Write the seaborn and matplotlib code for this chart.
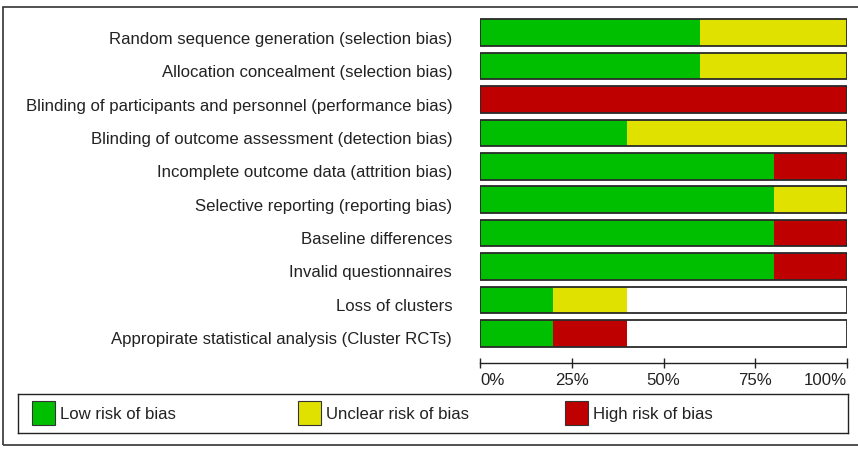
import numpy as np
import pandas as pd
import seaborn as sns
import matplotlib.pyplot as plt
import matplotlib.transforms as mtransforms
from matplotlib.patches import Rectangle

# -- risk of bias summary (percent of studies) -- #
domains = ['Random sequence generation (selection bias)',
           'Allocation concealment (selection bias)',
           'Blinding of participants and personnel (performance bias)',
           'Blinding of outcome assessment (detection bias)',
           'Incomplete outcome data (attrition bias)',
           'Selective reporting (reporting bias)',
           'Baseline differences',
           'Invalid questionnaires',
           'Loss of clusters',
           'Appropirate statistical analysis (Cluster RCTs)']
low = [60, 60, 0, 40, 80, 80, 80, 80, 20, 20]
unclear = [40, 40, 0, 60, 0, 20, 0, 0, 20, 0]
high = [0, 0, 100, 0, 20, 0, 20, 20, 0, 20]
totals = [100] * 10

xticks = [0, 25, 50, 75, 100]
legend_labels = ['Low risk of bias', 'Unclear risk of bias', 'High risk of bias']

GREEN, YELLOW, RED = '#00bf00', '#e1e100', '#bf0000'
legend_colors = [GREEN, YELLOW, RED]

sns.set_style('white')
plt.rcParams['font.family'] = ['Liberation Sans', 'DejaVu Sans']
FS = 12.1
TXT = '#222222'

df = pd.DataFrame({'domain': domains, 'low': low, 'unclear': unclear,
                   'high': high, 'total': totals})
df['low_unclear'] = df['low'] + df['unclear']
df['all'] = df['low_unclear'] + df['high']

W, H = 858, 452
fig = plt.figure(figsize=(W / 100, H / 100), dpi=100)
ax = fig.add_axes([480 / W, 1 - 351 / H, 367 / W, (351 - 17) / H])

# stacked bars: draw cumulative totals back to front
for col, c in [('all', RED), ('low_unclear', YELLOW), ('low', GREEN)]:
    sns.barplot(data=df, x=col, y='domain', color=c, saturation=1, width=0.8,
                linewidth=0, errorbar=None, ax=ax)
# outline of each bar
sns.barplot(data=df, x='total', y='domain', color='#2a2a2a', fill=False,
            width=0.8, linewidth=1.3, errorbar=None, ax=ax)

ax.set_xlim(0, 100)
ax.set_xlabel('')
ax.set_ylabel('')
for s in ['left', 'top', 'right']:
    ax.spines[s].set_visible(False)
ax.spines['bottom'].set_position(('outward', 9))
ax.spines['bottom'].set_color('#222222')
ax.spines['bottom'].set_linewidth(1)

ax.set_xticks(xticks)
ax.set_xticklabels([f'{v}%' for v in xticks])
ax.tick_params(axis='x', direction='inout', length=7, width=1, color='#222222',
               labelsize=FS, labelcolor=TXT, pad=3.5, bottom=True)
ax.tick_params(axis='y', length=0, pad=20, labelsize=FS, labelcolor=TXT)

xl = ax.get_xticklabels()
xl[0].set_ha('left')
xl[-1].set_ha('right')

shift = mtransforms.ScaledTranslation(0, -4 / 100, fig.dpi_scale_trans)
for lab in ax.get_yticklabels():
    lab.set_transform(lab.get_transform() + shift)

# -- legend box -- #
lax = fig.add_axes([18 / W, 1 - 434 / H, 830 / W, 39 / H])
lax.set_xlim(0, 830)
lax.set_ylim(0, 39)
lax.set_xticks([])
lax.set_yticks([])
for s in lax.spines.values():
    s.set_color('#222222')
    s.set_linewidth(1)
for x0, lbl, c in zip([14, 280, 547], legend_labels, legend_colors):
    lax.add_patch(Rectangle((x0, 8), 23, 24, facecolor=c, edgecolor='#333333', lw=0.8))
    lax.text(x0 + 28, 19.5, lbl, va='center', ha='left', fontsize=FS, color=TXT)

# outer frame
fig.patches.append(Rectangle((3 / W, 1 - 446 / H), 1.0, (446 - 8) / H,
                             transform=fig.transFigure, fill=False,
                             edgecolor='#333333', lw=1.2))

fig.savefig('out.png', dpi=100)
